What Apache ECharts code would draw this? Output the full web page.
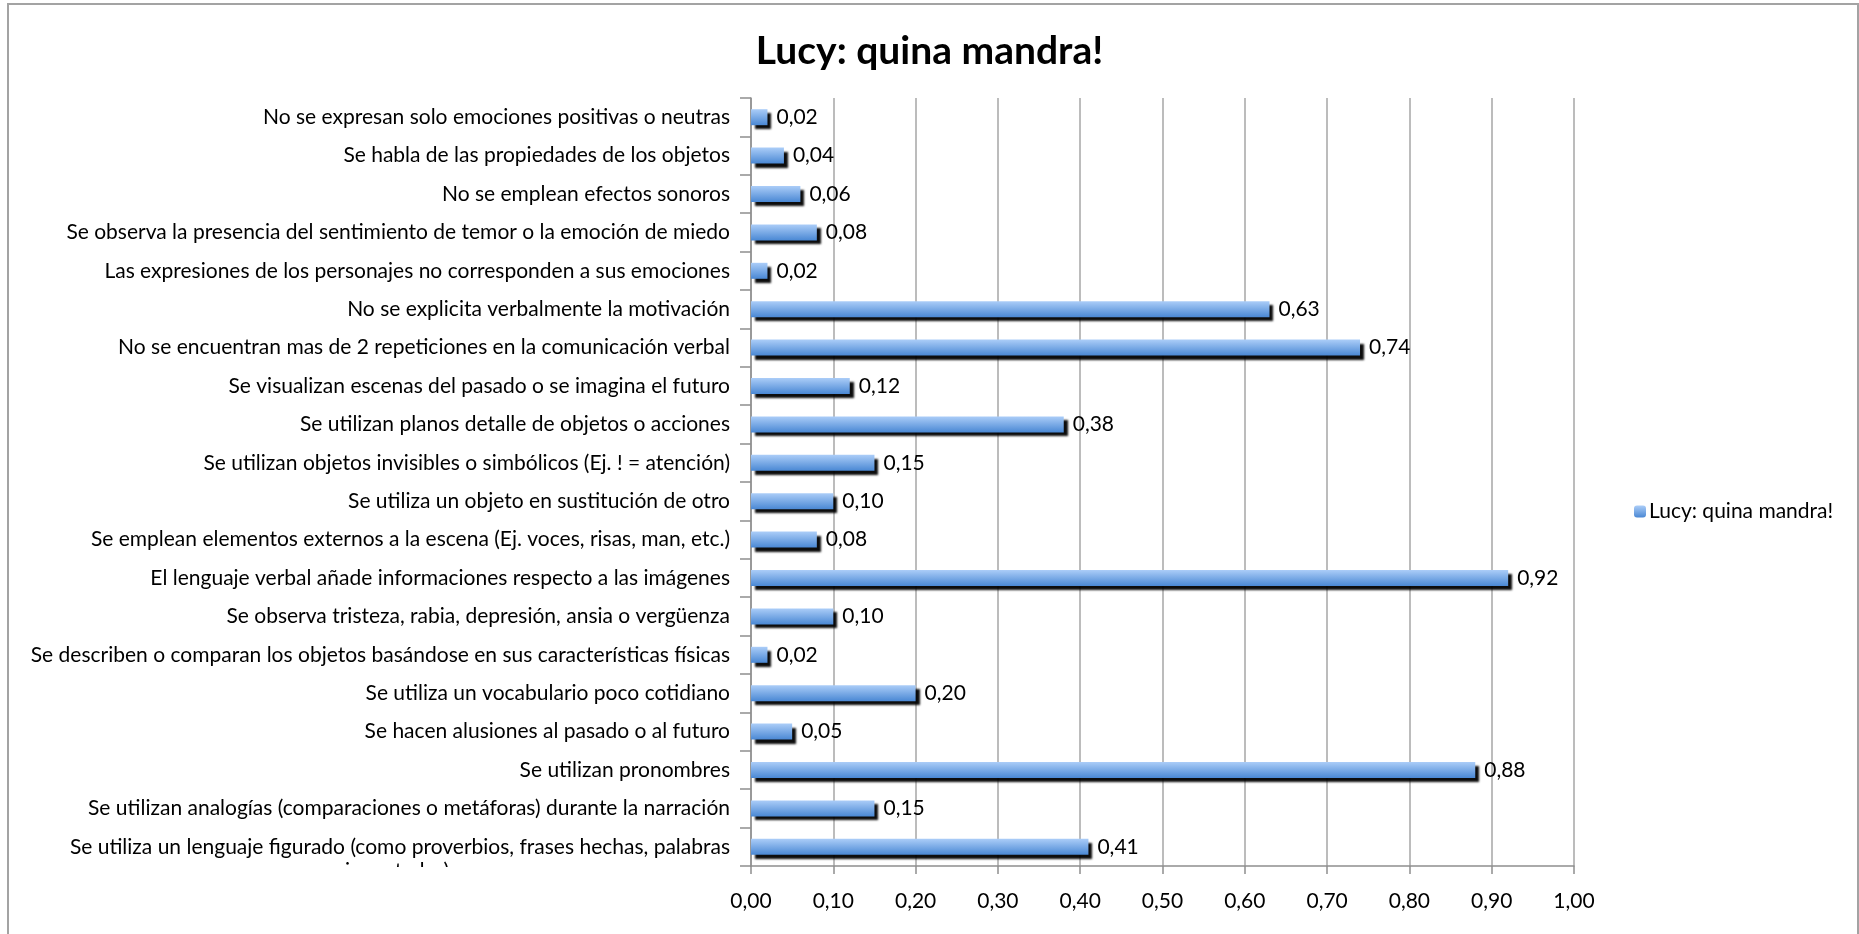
<!DOCTYPE html>
<html>
<head>
<meta charset="utf-8">
<script src="https://cdn.jsdelivr.net/npm/echarts@6/dist/echarts.min.js"></script>
<style>
  html, body { margin: 0; padding: 0; background: #fff; overflow: hidden; }
  .frame {
    position: absolute; left: 7px; top: 3px; width: 1848px; height: 1000px;
    border: 2px solid #a3a3a3;
  }
  #chart { position: absolute; left: 0; top: 0; width: 1859px; height: 934px; }
</style>
</head>
<body>
<div class="frame"></div>
<div id="chart"></div>
<script>
const chartTitle = "Lucy: quina mandra!";
const seriesName = "Lucy: quina mandra!";

// top to bottom, as in the picture
const categories = [
  "No se expresan solo emociones positivas o neutras",
  "Se habla de las propiedades de los objetos",
  "No se emplean efectos sonoros",
  "Se observa la presencia del sentimiento de temor o la emoción de miedo",
  "Las expresiones de los personajes no corresponden a sus emociones",
  "No se explicita verbalmente la motivación",
  "No se encuentran mas de 2 repeticiones en la comunicación verbal",
  "Se visualizan escenas del pasado o se imagina el futuro",
  "Se utilizan planos detalle de objetos o acciones",
  "Se utilizan objetos invisibles o simbólicos (Ej. ! = atención)",
  "Se utiliza un objeto en sustitución de otro",
  "Se emplean elementos externos a la escena (Ej. voces, risas, man, etc.)",
  "El lenguaje verbal añade informaciones respecto a las imágenes",
  "Se observa tristeza, rabia, depresión, ansia o vergüenza",
  "Se describen o comparan los objetos basándose en sus características físicas",
  "Se utiliza un vocabulario poco cotidiano",
  "Se hacen alusiones al pasado o al futuro",
  "Se utilizan pronombres",
  "Se utilizan analogías (comparaciones o metáforas) durante la narración",
  "Se utiliza un lenguaje figurado (como proverbios, frases hechas, palabras\ninventadas)"
];

const values = [
  0.02, 0.04, 0.06, 0.08, 0.02, 0.63, 0.74, 0.12, 0.38, 0.15,
  0.10, 0.08, 0.92, 0.10, 0.02, 0.20, 0.05, 0.88, 0.15, 0.41
];

const xMin = 0;
const xMax = 1;
const xStep = 0.1;

const font = "Lato, 'Open Sans', sans-serif";
const fs = 21;
const fmt = (v) => v.toFixed(2).replace(".", ",");

// grid in pixels
const gridLeft = 751, gridTop = 98, gridRight = 285, gridBottom = 68;

const chart = echarts.init(document.getElementById("chart"));

const barColor = new echarts.graphic.LinearGradient(0, 0, 0, 1, [
  { offset: 0, color: "#abcdf8" },
  { offset: 1, color: "#4a88d4" },
]);

// long labels wrap in two lines; the second one runs under the axis
const yLabels = categories.map((c) => {
  if (c.indexOf("\n") < 0) return c;
  const parts = c.split("\n");
  return {
    value: "{a|" + parts[0] + "}\n{b|" + parts[1] + "}",
    textStyle: { padding: [24, 0, 0, 0] },
  };
});

chart.setOption({
  animation: false,
  textStyle: { fontFamily: font },
  title: {
    text: chartTitle,
    left: "center",
    top: 27,
    textStyle: { fontFamily: font, fontSize: 39, fontWeight: "bold", color: "#000" },
  },
  legend: {
    orient: "vertical",
    left: 1629,
    top: 496,
    itemWidth: 12,
    itemHeight: 12,
    itemGap: 6,
    itemStyle: { shadowColor: "transparent", shadowBlur: 0, shadowOffsetX: 0, shadowOffsetY: 0 },
    textStyle: { fontFamily: font, fontSize: fs, color: "#000", padding: [0, 0, 0, -2] },
    data: [seriesName],
  },
  grid: {
    left: gridLeft,
    top: gridTop,
    right: gridRight,
    bottom: gridBottom,
    containLabel: false,
  },
  xAxis: {
    type: "value",
    min: xMin,
    max: xMax,
    interval: xStep,
    axisLine: { show: true, lineStyle: { color: "#8e8e8e", width: 1.5 } },
    axisTick: { show: true, length: 8, lineStyle: { color: "#8e8e8e", width: 1.5 } },
    axisLabel: {
      formatter: fmt,
      fontFamily: font,
      fontSize: fs,
      color: "#000",
      margin: 25,
    },
    splitLine: { show: true, lineStyle: { color: "#a6a6a6", width: 1.5 } },
  },
  yAxis: {
    type: "category",
    inverse: true,
    data: yLabels,
    axisLine: { show: true, lineStyle: { color: "#8e8e8e", width: 1.5 } },
    axisTick: { show: true, length: 11, lineStyle: { color: "#8e8e8e", width: 1.5 } },
    axisLabel: {
      fontFamily: font,
      fontSize: fs,
      color: "#000",
      margin: 21,
      interval: 0,
      lineHeight: 24,
      rich: {
        a: { fontFamily: font, fontSize: fs, color: "#000", lineHeight: 24 },
        b: { fontFamily: font, fontSize: fs, color: "#000", lineHeight: 24, width: 666, align: "center" },
      },
    },
  },
  series: [
    {
      name: seriesName,
      type: "bar",
      data: values,
      barWidth: 16,
      itemStyle: {
        color: barColor,
        shadowColor: "rgba(0,0,0,0.95)",
        shadowBlur: 2,
        shadowOffsetX: 4,
        shadowOffsetY: 4,
      },
      label: {
        show: true,
        position: "right",
        distance: 9,
        fontFamily: font,
        fontSize: fs,
        color: "#000",
        formatter: (p) => fmt(p.value),
      },
    },
  ],
  // white strip under the plot hides the wrapped line, as in the picture
  graphic: [
    {
      type: "rect",
      z: 100,
      silent: true,
      shape: { x: 10, y: 934 - gridBottom + 1, width: gridLeft - 20, height: 26 },
      style: { fill: "#fff" },
    },
  ],
});
</script>
</body>
</html>
